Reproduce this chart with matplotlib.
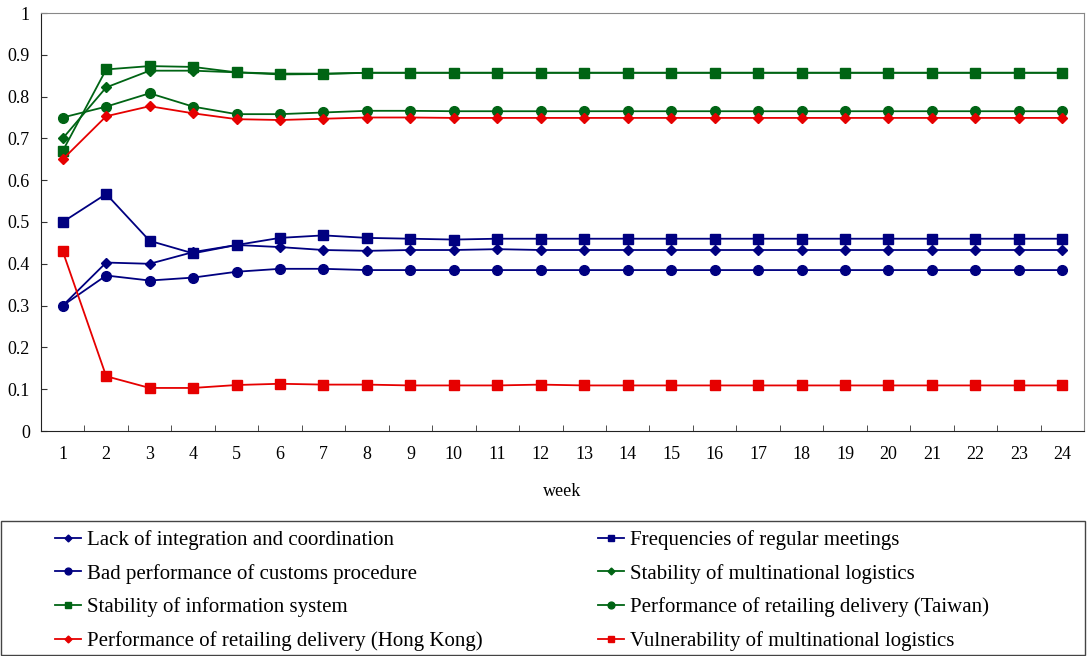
import matplotlib.pyplot as plt
from matplotlib.patches import Rectangle
import numpy as np

plt.rcParams['font.family'] = ['Liberation Serif', 'DejaVu Serif']

weeks = np.arange(1, 25)

lack_integration = [0.300, 0.403, 0.400, 0.428, 0.445, 0.440, 0.433, 0.431, 0.433, 0.433, 0.435, 0.433,
                    0.433, 0.433, 0.433, 0.433, 0.433, 0.433, 0.433, 0.433, 0.433, 0.433, 0.433, 0.433]
freq_meetings = [0.500, 0.567, 0.455, 0.425, 0.445, 0.462, 0.468, 0.462, 0.460, 0.458, 0.460, 0.460,
                 0.460, 0.460, 0.460, 0.460, 0.460, 0.460, 0.460, 0.460, 0.460, 0.460, 0.460, 0.460]
bad_customs = [0.300, 0.372, 0.360, 0.367, 0.381, 0.388, 0.388, 0.385, 0.385, 0.385, 0.385, 0.385,
               0.385, 0.385, 0.385, 0.385, 0.385, 0.385, 0.385, 0.385, 0.385, 0.385, 0.385, 0.385]
stab_multinational = [0.700, 0.822, 0.862, 0.862, 0.858, 0.855, 0.855, 0.857, 0.857, 0.857, 0.857, 0.857,
                      0.857, 0.857, 0.857, 0.857, 0.857, 0.857, 0.857, 0.857, 0.857, 0.857, 0.857, 0.857]
stab_info = [0.670, 0.865, 0.873, 0.871, 0.858, 0.853, 0.854, 0.857, 0.857, 0.857, 0.857, 0.857,
             0.857, 0.857, 0.857, 0.857, 0.857, 0.857, 0.857, 0.857, 0.857, 0.857, 0.857, 0.857]
perf_taiwan = [0.750, 0.776, 0.808, 0.776, 0.758, 0.758, 0.762, 0.766, 0.766, 0.765, 0.765, 0.765,
               0.765, 0.765, 0.765, 0.765, 0.765, 0.765, 0.765, 0.765, 0.765, 0.765, 0.765, 0.765]
perf_hongkong = [0.650, 0.753, 0.777, 0.760, 0.746, 0.744, 0.747, 0.750, 0.750, 0.749, 0.749, 0.749,
                 0.749, 0.749, 0.749, 0.749, 0.749, 0.749, 0.749, 0.749, 0.749, 0.749, 0.749, 0.749]
vulnerability = [0.430, 0.131, 0.103, 0.103, 0.110, 0.113, 0.111, 0.111, 0.109, 0.109, 0.109, 0.111,
                 0.109, 0.109, 0.109, 0.109, 0.109, 0.109, 0.109, 0.109, 0.109, 0.109, 0.109, 0.109]

blue = "#000080"
green = "#006414"
red = "#e60000"

series = [
    ("Lack of integration and coordination", lack_integration, blue, "D", 5),
    ("Frequencies of regular meetings", freq_meetings, blue, "s", 7),
    ("Bad performance of customs procedure", bad_customs, blue, "o", 7),
    ("Stability of multinational logistics", stab_multinational, green, "D", 5),
    ("Stability of information system", stab_info, green, "s", 7),
    ("Performance of retailing delivery (Taiwan)", perf_taiwan, green, "o", 7),
    ("Performance of retailing delivery (Hong Kong)", perf_hongkong, red, "D", 5),
    ("Vulnerability of multinational logistics", vulnerability, red, "s", 7),
]

W, H = 1087, 656
fig = plt.figure(figsize=(W / 100, H / 100), dpi=100)
ax = fig.add_axes([41 / W, 1 - 431 / H, (1084 - 41) / W, (431 - 13) / H])

for name, vals, col, mk, ms in series:
    ax.plot(weeks, vals, color=col, marker=mk, ms=ms, lw=1.3, label=name)

ax.set_xlim(0.5, 24.5)
ax.set_ylim(0, 1)
ax.set_yticks(np.arange(0, 1.01, 0.1))
ax.set_yticklabels(["0", "0.1", "0.2", "0.3", "0.4", "0.5", "0.6", "0.7", "0.8", "0.9", "1"])
ax.set_xticks(weeks)
ax.set_xticks(np.arange(1.5, 24, 1), minor=True)
ax.tick_params(axis="x", which="major", length=0, labelsize=13, pad=11)
ax.tick_params(axis="x", which="minor", direction="in", length=4, color="#333333")
ax.tick_params(axis="y", direction="in", length=4, labelsize=13, pad=8, color="#333333")
for side in ["top", "right"]:
    ax.spines[side].set_color("#888888")
for side in ["left", "bottom"]:
    ax.spines[side].set_color("#222222")
ax.set_xlabel("week", fontsize=13, labelpad=14)

# legend box
fig.patches.append(Rectangle((1 / W, 1 / H), 1084 / W, 134 / H, transform=fig.transFigure,
                             fill=False, edgecolor="#444444", lw=1.0))

handles, labels = ax.get_legend_handles_labels()
for col_idx, x0 in enumerate([55, 598]):
    idx = [col_idx + 2 * r for r in range(4)]
    leg = fig.legend([handles[i] for i in idx], [labels[i] for i in idx],
                     loc="upper left", bbox_to_anchor=(x0 / W, 1 - 530 / H),
                     fontsize=15, frameon=False, borderpad=0, borderaxespad=0,
                     labelspacing=0.66, handlelength=1.25, handletextpad=0.3,
                     markerscale=0.7)

fig.savefig("out.png", dpi=100)
